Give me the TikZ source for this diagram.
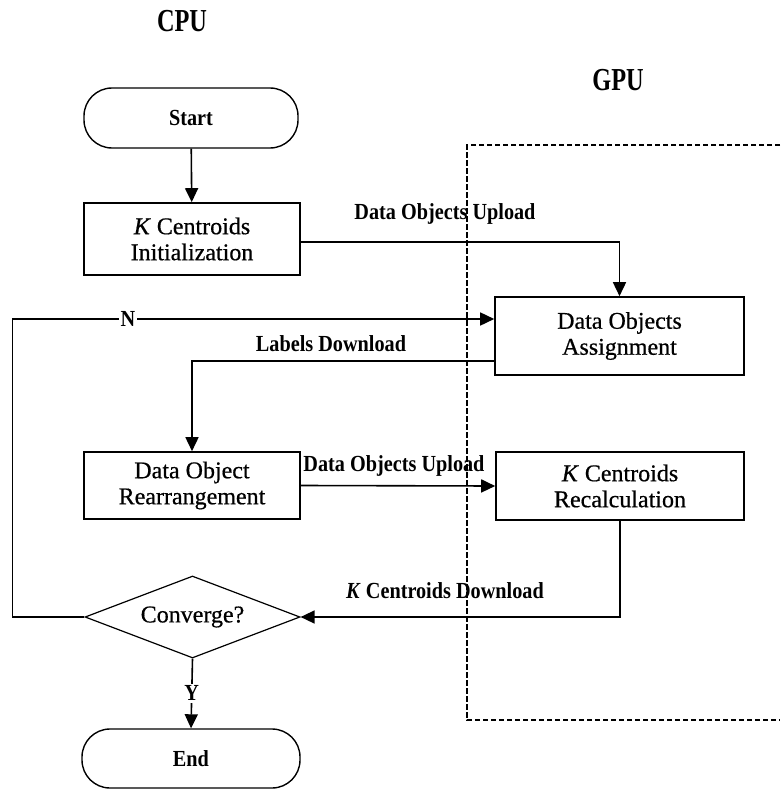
\documentclass[tikz,border=0pt]{standalone}
\usepackage{fontspec}
\setmainfont{Liberation Serif}
\newfontfamily\boxfont[FakeBold=0.6]{Liberation Serif}
\newfontfamily\lblfont[FakeStretch=0.88]{Liberation Serif}
\newfontfamily\headfont[FakeStretch=0.76]{Liberation Serif}
\usetikzlibrary{arrows.meta,shapes.geometric}

\tikzset{
  procbox/.style={draw, line width=1.6pt, rectangle, inner sep=0pt, align=center,
    font=\boxfont\fontsize{24}{26}\selectfont},
  termbox/.style={draw, line width=1.4pt, rectangle, rounded corners=28pt, inner sep=0pt,
    font=\lblfont\bfseries\fontsize{23}{25}\selectfont},
  decide/.style={draw, line width=1.2pt, diamond, inner sep=0pt,
    font=\boxfont\fontsize{24}{26}\selectfont},
  flow/.style={line width=1.6pt, -{Triangle[length=14pt,width=13pt]}},
  edgelbl/.style={inner sep=1pt, font=\lblfont\bfseries\fontsize{23}{25}\selectfont},
  headlbl/.style={inner sep=0pt, font=\headfont\bfseries\fontsize{32}{34}\selectfont},
  region/.style={line width=1.1pt, dash pattern=on 5pt off 3pt}
}

\begin{document}
\begin{tikzpicture}[x=1pt, y=-1pt]
  \useasboundingbox (0,0) rectangle (780,789);

  % processor labels
  \node[headlbl] (cpu) at (182,21) {CPU};
  \node[headlbl] (gpu) at (618,80) {GPU};

  % GPU region
  \draw[region] (780,145) -- (467,145) -- (467,720) -- (780,720);

  % flow steps
  \node[termbox, minimum width=214pt, minimum height=60pt] (start) at (191,118) {Start};
  \node[procbox, minimum width=216pt, minimum height=72pt] (kinit) at (192,239)
    {\textit{K} Centroids\\Initialization};
  \node[procbox, minimum width=249pt, minimum height=78pt] (assign) at (619.5,336)
    {Data Objects\\Assignment};
  \node[procbox, minimum width=216pt, minimum height=67pt] (rearr) at (192,485.5)
    {Data Object\\Rearrangement};
  \node[procbox, minimum width=248pt, minimum height=68pt] (recalc) at (620,486)
    {\textit{K} Centroids\\Recalculation};
  \node[decide, minimum width=215pt, minimum height=82pt, aspect=2.62] (conv) at (192.5,617)
    {Converge?};
  \node[termbox, minimum width=218pt, minimum height=59pt] (finish) at (191,758.5) {End};

  % connectors
  \draw[flow] (start) -- (kinit);
  \draw[flow] ([yshift=-3pt]kinit.east) -| (assign.north);
  \draw[flow] (conv.west) -- ++(-72,0) |- ([yshift=17pt]assign.west)
    node[pos=0.62, fill=white, edgelbl, inner sep=2pt] (nlbl) {N};
  \draw[flow] ([yshift=-25pt]assign.west) -| (rearr.north);
  \draw[flow] (rearr.east) -- (recalc.west);
  \draw[flow] (recalc.south) |- (conv.east);
  \draw[flow] (conv.south) -- (finish.north)
    node[midway, fill=white, edgelbl, inner sep=2pt] (ylbl) {Y};

  % transfer labels
  \node[edgelbl] (up1) at (445,214) {Data Objects Upload};
  \node[edgelbl] (down1) at (331,344) {Labels Download};
  \node[edgelbl] (up2) at (394,466) {Data Objects Upload};
  \node[edgelbl] (down2) at (445,591) {\textit{K} Centroids Download};

  % dashed boundary drawn again on top of the labels it crosses
  \draw[region] (467,145) -- (467,720);
\end{tikzpicture}
\end{document}
